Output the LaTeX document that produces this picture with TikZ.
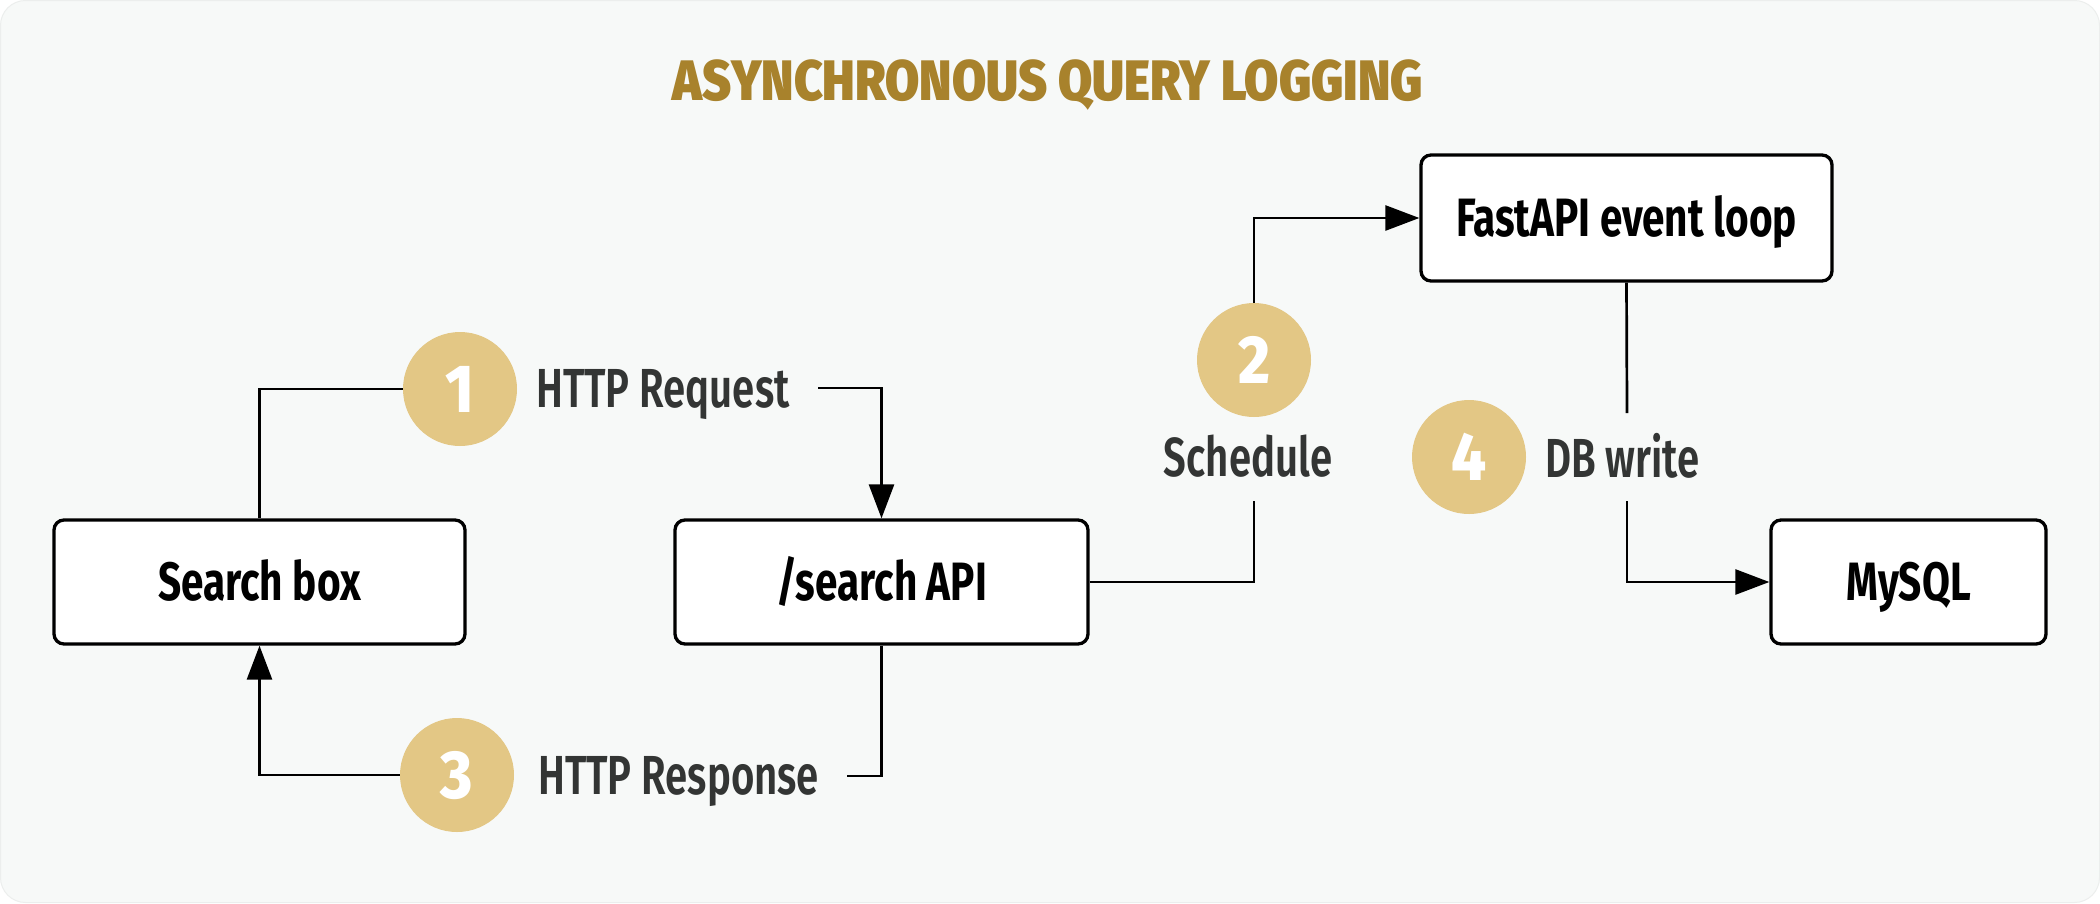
\documentclass[tikz,border=0pt]{standalone}
\usepackage{fontspec}
\usetikzlibrary{arrows.meta}
\newfontfamily\boxfont{Fira Sans}[FakeStretch=0.75]
\newfontfamily\labfont{Fira Sans SemiBold}[FakeStretch=0.73]
\newfontfamily\titfont{Fira Sans Black}[FakeStretch=0.87]
\newfontfamily\numfont{Fira Sans ExtraBold}[FakeStretch=0.9]
\definecolor{bgc}{RGB}{247,249,248}
\definecolor{bgl}{RGB}{236,238,237}
\definecolor{gold}{RGB}{168,130,44}
\definecolor{circ}{RGB}{227,199,133}
\definecolor{labc}{RGB}{51,53,52}
\tikzset{
  boxn/.style={draw=black, line width=3.3pt, fill=white, rounded corners=10pt,
    minimum height=124pt, inner sep=0pt, font=\boxfont\bfseries\fontsize{54}{60}\selectfont,
    text height=37pt, text depth=0pt},
  numc/.style={circle, fill=circ, minimum size=114pt, inner sep=0pt,
    font=\numfont\fontsize{68}{70}\selectfont, text=white,
    text height=47pt, text depth=0pt},
  labn/.style={inner sep=0pt, text=labc, font=\labfont\fontsize{55}{60}\selectfont,
    text height=38pt, text depth=0pt},
  conn/.style={draw=black, line width=2.7pt},
  arr/.style={conn, -{Triangle[length=34pt,width=25pt]}}
}
\begin{document}
\begin{tikzpicture}[x=1pt,y=-1pt]
\useasboundingbox (0,0) rectangle (2100,903);
\fill[white] (0,0) rectangle (2100,903);
\draw[bgl, fill=bgc, line width=1pt, rounded corners=25pt] (0.5,0.5) rectangle (2099.5,902.5);
% title
\node[anchor=base, text=gold, inner sep=0pt, font=\titfont\fontsize{57}{60}\selectfont] (title) at (1048,100) {ASYNCHRONOUS QUERY LOGGING};
% boxes
\node[boxn, minimum width=411pt] (sb) at (259.5,582) {Search box};
\node[boxn, minimum width=413pt] (api) at (881.5,582) {/search API};
\node[boxn, minimum width=411pt, minimum height=126pt] (fast) at (1626.5,218) {FastAPI event loop};
\node[boxn, minimum width=275pt] (mysql) at (1908.5,582) {MySQL};
% circles
\node[numc] (c1) at (460,389) {1};
\node[numc] (c2) at (1254,360) {2};
\node[numc] (c3) at (457,775) {3};
\node[numc] (c4) at (1469,457) {4};
% labels
\node[labn, anchor=west] (req) at (536,388) {HTTP Request};
\node[labn, anchor=west] (resp) at (538,775) {HTTP Response};
\node[labn] (sched) at (1248,457) {Schedule};
\node[labn, anchor=west] (dbw) at (1545,458) {DB write};
% connector end points
\coordinate (reqE) at (818,388);
\coordinate (respE) at (847,776);
\coordinate (s2) at (1254,501);
\coordinate (f4) at (1627,413);
\coordinate (d4) at (1627,501);
% connectors
\draw[conn] (sb.north) |- (c1.west);
\draw[arr] (reqE) -| (api.north);
\draw[conn] (api.south) |- (respE);
\draw[arr] (c3.west) -| (sb.south);
\draw[conn] (api.east) -| (s2);
\draw[arr] (c2.north) |- (fast.west);
\draw[conn] (fast.south) -- (f4);
\draw[arr] (d4) |- (mysql.west);
\end{tikzpicture}
\end{document}
